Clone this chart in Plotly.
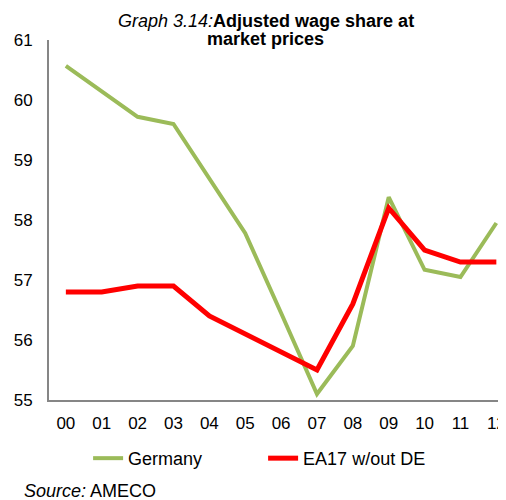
import plotly.graph_objects as go

years = ["00", "01", "02", "03", "04", "05", "06", "07", "08", "09", "10", "11", "12"]
germany = [60.57, 60.15, 59.72, 59.6, 58.7, 57.78, 56.45, 55.1, 55.9, 58.38, 57.17, 57.05, 57.95]
ea17 = [56.8, 56.8, 56.9, 56.9, 56.4, 56.1, 55.8, 55.5, 56.6, 58.2, 57.5, 57.3, 57.3]
y_ticks = [55, 56, 57, 58, 59, 60, 61]
title_lines = ["<i>Graph 3.14:</i><b>Adjusted wage share at</b>", "<b>market prices</b>"]

xs = list(range(len(years)))
FONT = "Liberation Sans, Arial, sans-serif"

fig = go.Figure()
fig.add_trace(go.Scatter(x=xs, y=germany, mode="lines", name="Germany",
                         line=dict(color="#9BBB59", width=4)))
fig.add_trace(go.Scatter(x=xs, y=ea17, mode="lines", name="EA17 w/out DE",
                         line=dict(color="#FF0000", width=5)))

annotations = [
    dict(text=title_lines[0], xref="paper", yref="paper", x=0.479, xanchor="center",
         y=1.0536, yanchor="middle", showarrow=False, font=dict(size=18, family=FONT)),
    dict(text=title_lines[1], xref="paper", yref="paper", x=0.479, xanchor="center",
         y=1.0036, yanchor="middle", showarrow=False, font=dict(size=18, family=FONT)),
    dict(text="<i>Source:</i> AMECO", xref="paper", yref="paper",
         x=-0.059, xanchor="left", y=-0.253, yanchor="middle",
         showarrow=False, font=dict(size=18, family=FONT)),
]

fig.update_layout(
    width=498, height=492,
    margin=dict(l=41, r=0, t=32, b=100),
    paper_bgcolor="white", plot_bgcolor="white",
    font=dict(family=FONT, size=17, color="black"),
    showlegend=True,
    legend=dict(orientation="h", x=0.0865, xanchor="left", y=-0.111, yanchor="top",
                font=dict(size=18, family=FONT), entrywidth=130, entrywidthmode="pixels",
                bgcolor="rgba(0,0,0,0)"),
    xaxis=dict(range=[-0.47, 12.13], tickvals=xs, ticktext=years,
               showgrid=False, zeroline=False, showline=True, linecolor="#868686", linewidth=2,
               ticks="outside", ticklen=7, tickcolor="rgba(0,0,0,0)",
               ticklabeloverflow="allow", tickfont=dict(size=17)),
    yaxis=dict(range=[55, 61], tickvals=y_ticks, showgrid=False, zeroline=False,
               showline=True, linecolor="#868686", linewidth=2,
               ticks="outside", ticklen=11, tickcolor="rgba(0,0,0,0)",
               tickfont=dict(size=17)),
    annotations=annotations,
)

fig.write_html("out.html")
